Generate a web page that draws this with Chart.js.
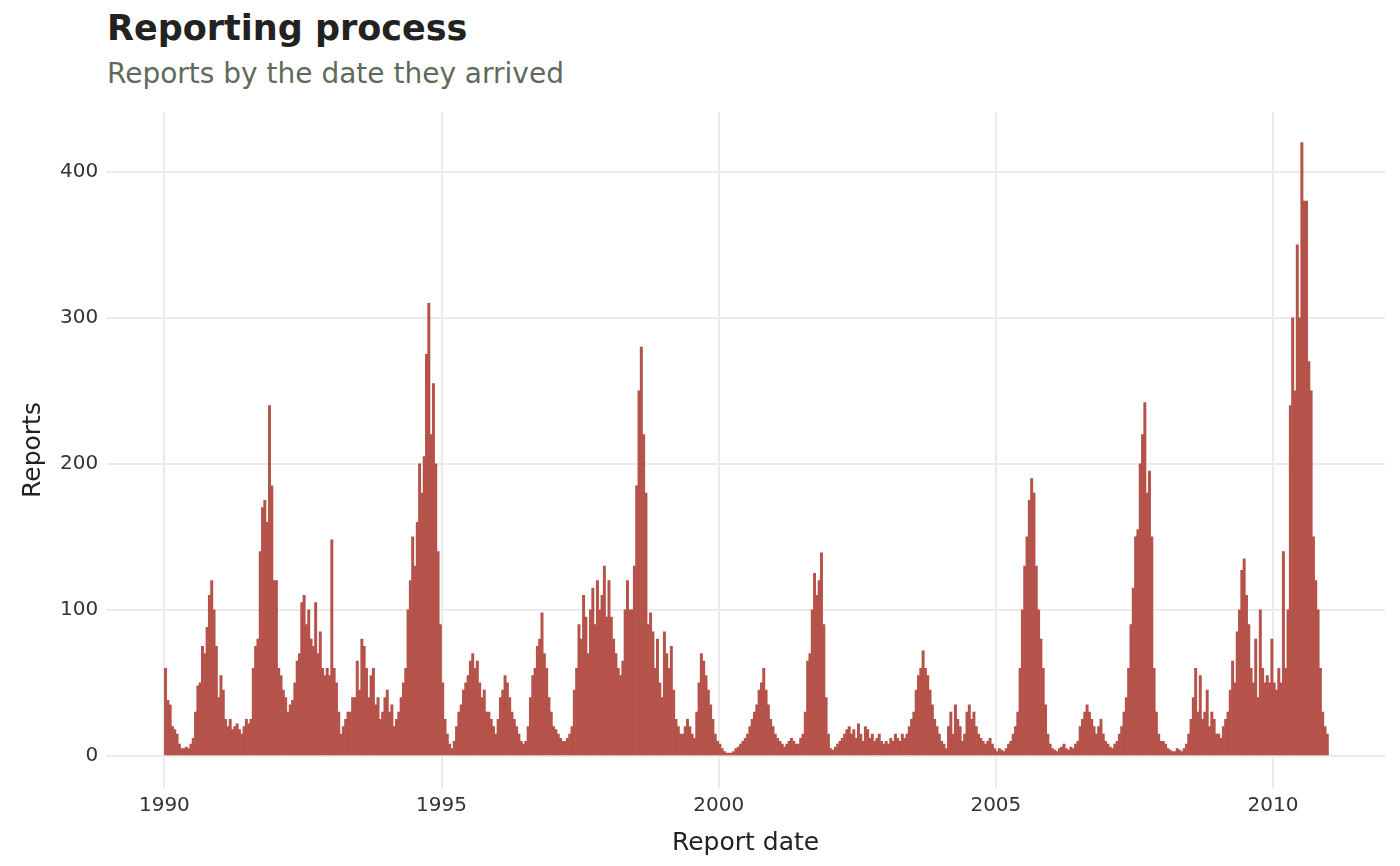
<!DOCTYPE html>
<html><head><meta charset="utf-8">
<script src="https://cdn.jsdelivr.net/npm/chart.js@4/dist/chart.umd.min.js"></script>
<style>
html,body{margin:0;padding:0;background:#fff;font-family:"DejaVu Sans",sans-serif;}
#t{position:absolute;left:107px;top:8px;font-size:35px;font-weight:bold;color:#222;}
#s{position:absolute;left:107px;top:57px;font-size:28px;color:#5f6b5a;}
#w{position:absolute;left:0;top:92px;width:1400px;height:774px;}
</style></head><body>
<div id="t">Reporting process</div>
<div id="s">Reports by the date they arrived</div>
<div id="w"><canvas id="c"></canvas></div>
<script>
const startYear = 1990;
const periodsPerYear = 24;
const reports = [
// 1990
60,38,35,20,18,15,8,5,5,6,5,8,12,30,48,50,75,70,88,110,120,100,75,40,
// 1991
55,45,25,20,25,18,20,22,18,15,20,25,22,25,60,75,80,140,170,175,160,240,185,120,
// 1992
120,60,55,45,40,30,35,38,50,65,70,105,110,90,100,80,75,105,70,85,60,55,60,55,
// 1993
148,60,50,30,15,20,25,30,30,40,40,65,45,80,75,60,40,55,60,35,40,25,30,40,
// 1994
45,30,35,20,25,30,40,50,60,100,120,150,130,160,200,180,205,275,310,220,255,200,140,90,
// 1995
50,25,15,8,5,10,20,30,35,45,50,55,65,70,60,65,50,40,45,30,30,25,20,15,
// 1996
25,40,45,55,50,40,30,25,20,15,10,8,10,20,40,55,60,75,80,98,70,60,40,30,
// 1997
20,18,15,12,10,10,12,15,20,45,60,90,80,110,95,70,100,115,90,120,100,110,130,95,
// 1998
120,95,80,70,60,55,65,100,120,100,100,130,185,250,280,220,180,90,98,85,60,80,50,40,
// 1999
85,70,60,75,45,25,20,15,15,20,25,20,15,12,30,50,70,65,55,45,35,25,15,10,
// 2000
8,5,3,2,2,2,3,5,6,8,10,12,15,20,25,30,35,45,50,60,45,35,25,20,
// 2001
15,12,10,8,6,8,10,12,10,8,8,12,15,30,65,70,100,125,110,120,139,90,40,15,
// 2002
5,4,6,8,10,12,15,18,20,15,18,12,22,15,10,20,18,12,15,10,12,15,10,8,
// 2003
10,8,12,10,15,12,10,15,12,15,20,25,30,45,55,60,72,60,55,45,35,25,20,15,
// 2004
10,8,5,20,30,15,35,25,20,10,15,30,35,25,30,20,15,12,10,8,10,12,8,5,
// 2005
3,5,4,3,5,8,10,15,20,30,60,100,130,150,175,190,180,130,100,80,60,35,15,8,
// 2006
5,4,3,5,6,8,5,4,6,5,8,10,20,25,30,35,30,25,20,15,20,25,15,10,
// 2007
8,6,5,8,10,15,20,30,40,60,90,115,150,155,200,220,242,180,195,150,60,30,15,10,
// 2008
10,8,5,4,3,3,5,4,3,5,8,15,25,40,60,30,55,25,30,45,20,30,25,15,
// 2009
15,12,20,25,30,45,65,50,85,100,127,135,110,90,60,50,80,40,100,60,50,55,50,80,
// 2010
50,45,60,50,140,60,100,240,300,250,350,300,420,380,380,270,250,150,120,100,60,30,20,15
];
const xTicks = [1990,1995,2000,2005,2010];
const yTicks = [0,100,200,300,400];

const pts = reports.map((v,i)=>({x: startYear + (i+0.5)/periodsPerYear, y: v}));
const tickFont = {family:"DejaVu Sans", size:20};
new Chart(document.getElementById('c'), {
  type:'bar',
  data:{datasets:[{data:pts, backgroundColor:'#b5534a', borderWidth:0, barPercentage:1.0, categoryPercentage:1.0, grouped:false}]},
  options:{
    responsive:true, maintainAspectRatio:false, animation:false,
    layout:{padding:{left:14,right:15,top:0,bottom:4}},
    plugins:{legend:{display:false}, tooltip:{enabled:false}},
    scales:{
      x:{type:'linear', min:1988.95, max:2012.02, offset:false,
        afterBuildTicks:s=>{s.ticks = xTicks.map(v=>({value:v}));},
        ticks:{font:tickFont, color:'#333', callback:v=>String(v), maxRotation:0, padding:6},
        grid:{offset:false, color:'#ebebeb', lineWidth:2, drawTicks:false}, border:{display:false},
        title:{display:true, text:'Report date', font:{family:"DejaVu Sans", size:25}, color:'#222', padding:{top:4}}},
      y:{min:-22, max:441,
        afterBuildTicks:s=>{s.ticks = yTicks.map(v=>({value:v}));},
        ticks:{font:tickFont, color:'#333', padding:8},
        grid:{color:'#ebebeb', lineWidth:2, drawTicks:false}, border:{display:false},
        title:{display:true, text:'Reports', font:{family:"DejaVu Sans", size:25}, color:'#222'}}
    }
  }
});
</script></body></html>
